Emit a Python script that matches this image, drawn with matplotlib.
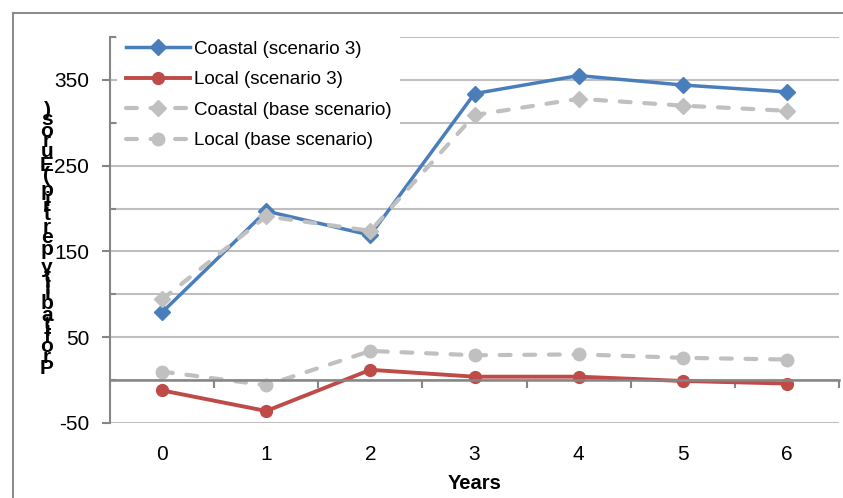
import numpy as np
import matplotlib
matplotlib.use('Agg')
import matplotlib.pyplot as plt
from matplotlib.lines import Line2D
from matplotlib.ticker import FixedLocator
from matplotlib.textpath import TextToPath
from matplotlib.font_manager import FontProperties

plt.rcParams['font.family'] = ['Liberation Sans', 'DejaVu Sans']
plt.rcParams['axes.unicode_minus'] = False

# data
years = [0, 1, 2, 3, 4, 5, 6]
coastal_s3 = [79, 197, 169, 334, 355, 344, 336]
local_s3 = [-12, -36, 12, 4, 4, -1, -4]
coastal_base = [94, 191, 174, 309, 328, 320, 314]
local_base = [10, -6, 34, 29, 30, 26, 24]
series_labels = ['Coastal (scenario 3)', 'Local (scenario 3)',
                 'Coastal (base scenario)', 'Local (base scenario)']
y_major = [-50, 50, 150, 250, 350]
y_minor = [0, 100, 200, 300, 400]
y_title = 'Profitability per trip (Euros)'
x_title = 'Years'

blue = '#4a7ebb'
red = '#be4b48'
grey = '#c0c0c0'
axis_grey = '#868686'
grid_grey = '#bfbfbf'

W, H = 843, 498
fig = plt.figure(figsize=(W / 100, H / 100), dpi=100)
ax = fig.add_axes([110 / W, 75 / H, 729 / W, 386 / H])

dash = (0, (2.6, 3.3))
ax.plot(years, coastal_s3, color=blue, lw=2.5, marker='D', ms=8.5,
        label=series_labels[0])
ax.plot(years, local_s3, color=red, lw=2.8, marker='o', ms=8.5,
        label=series_labels[1])
ax.plot(years, coastal_base, color=grey, lw=3, ls=dash, dash_capstyle='round',
        marker='D', ms=8.5, label=series_labels[2])
ax.plot(years, local_base, color=grey, lw=3, ls=dash, dash_capstyle='round',
        marker='o', ms=9, label=series_labels[3])

ax.set_xlim(years[0] - 0.5, years[-1] + 0.5)
ax.set_ylim(-50, 400)

# y axis
ax.yaxis.set_major_locator(FixedLocator(y_major))
ax.yaxis.set_minor_locator(FixedLocator(y_minor))
ax.grid(True, axis='y', which='both', color=grid_grey, lw=1.5)
ax.set_axisbelow(True)
ax.tick_params(axis='y', which='major', direction='out', length=6, width=1.5,
               color=axis_grey, labelsize=15, pad=9)
ax.tick_params(axis='y', which='minor', direction='in', length=4, width=1.5,
               color=axis_grey)

# category axis crosses at zero, labels stay at the bottom
for s in ['top', 'right']:
    ax.spines[s].set_visible(False)
ax.spines['left'].set_color(axis_grey)
ax.spines['left'].set_linewidth(1.5)
ax.spines['bottom'].set_position(('data', 0))
ax.spines['bottom'].set_color(axis_grey)
ax.spines['bottom'].set_linewidth(1.8)
ax.set_xticks([y - 0.5 for y in years] + [years[-1] + 0.5])
ax.tick_params(axis='x', direction='out', length=6, width=1.5,
               color=axis_grey, labelbottom=False)

sec = ax.secondary_xaxis('bottom')
sec.set_xticks(years)
sec.spines['bottom'].set_visible(False)
sec.tick_params(length=0, labelsize=15, pad=16)
sec.set_xlabel(x_title, fontsize=14.5, fontweight='bold', labelpad=7)

leg = ax.legend(loc='upper left', bbox_to_anchor=(0.010, 1.012), fontsize=13.5,
                frameon=True, facecolor='white', edgecolor='none',
                framealpha=1, fancybox=False, handlelength=3.45,
                handletextpad=0.2, labelspacing=0.71, borderpad=0.45,
                borderaxespad=0.0, numpoints=1)

# vertical stacked axis title
fp = FontProperties(family='Liberation Sans', weight='bold', size=15)
ttp = TextToPath()
adv = []
for ch in y_title:
    if ch == ' ':
        adv.append(0.28 * 15)
    else:
        adv.append(ttp.get_text_width_height_descent(ch, fp, ismath=False)[0])
adv = np.array(adv)
centres = np.cumsum(adv) - adv / 2
centres = (centres - centres[0]) / (centres[-1] - centres[0])
y_bottom, y_top = 368, 110
for ch, c in zip(y_title, centres):
    ypx = y_bottom - c * (y_bottom - y_top)
    fig.text(47 / W, 1 - ypx / H, ch, fontproperties=fp,
             ha='center', va='center')

# chart area border
fig.add_artist(Line2D([13 / W, 13 / W], [0, 1 - 13 / H], color='#8c8c8c', lw=1.5))
fig.add_artist(Line2D([13 / W, 1], [1 - 13 / H, 1 - 13 / H], color='#8c8c8c', lw=1.5))

fig.savefig('out.png', dpi=100)
